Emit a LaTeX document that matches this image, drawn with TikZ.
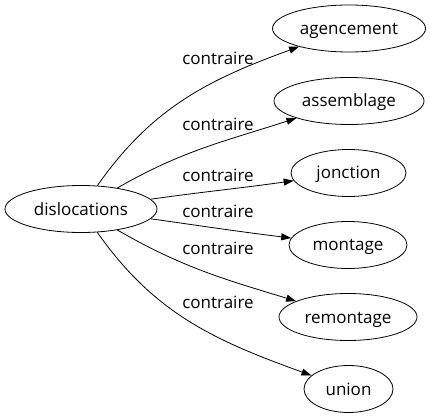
\documentclass[tikz,border=0pt]{standalone}
\usepackage{fontspec}
\setmainfont{Open Sans}
\usetikzlibrary{shapes.geometric,arrows.meta}

\begin{document}
\begin{tikzpicture}[x=1pt,y=1pt,
                        word/.style={draw,ellipse,line width=0.8pt,inner sep=1pt,minimum height=47pt,
                        text height=16pt,text depth=4pt,font=\fontsize{17}{20}\selectfont},
                        rel/.style={line width=0.8pt,-{Triangle[length=10pt,width=7pt]}},
                        lbl/.style={anchor=base,inner sep=0pt,font=\fontsize{17}{20}\selectfont}
                        ]
                        \useasboundingbox (0,0) rectangle (430,-419);
                        % the word and its opposites
                        \node[word,minimum width=152pt] (dis) at (81,-209) {dislocations};
                        \node[word,minimum width=153pt] (agc) at (349,-28.5) {agencement};
                        \node[word,minimum width=150pt] (asm) at (349,-101) {assemblage};
                        \node[word,minimum width=115pt] (jon) at (348.5,-173) {jonction};
                        \node[word,minimum width=118pt] (mon) at (348,-245) {montage};
                        \node[word,minimum width=138pt] (rem) at (348,-317) {remontage};
                        \node[word,minimum width=89pt] (uni) at (348.5,-389) {union};

                        \draw[rel] (dis) to[out=55,in=200] (agc);
                        \draw[rel] (dis) to[out=30,in=198] (asm);
                        \draw[rel] (dis) to[out=8,in=188] (jon);
                        \draw[rel] (dis) to[out=-8,in=173] (mon);
                        \draw[rel] (dis) to[out=-30,in=163] (rem);
                        \draw[rel] (dis) to[out=-55,in=160] (uni);

                        % edge labels
                        \node[lbl] (l1) at (218,-65) {contraire};
                        \node[lbl] (l2) at (218,-131) {contraire};
                        \node[lbl] (l3) at (218,-182) {contraire};
                        \node[lbl] (l4) at (218,-218) {contraire};
                        \node[lbl] (l5) at (218,-254) {contraire};
                        \node[lbl] (l6) at (218,-308) {contraire};
                \end{tikzpicture}
\end{document}
